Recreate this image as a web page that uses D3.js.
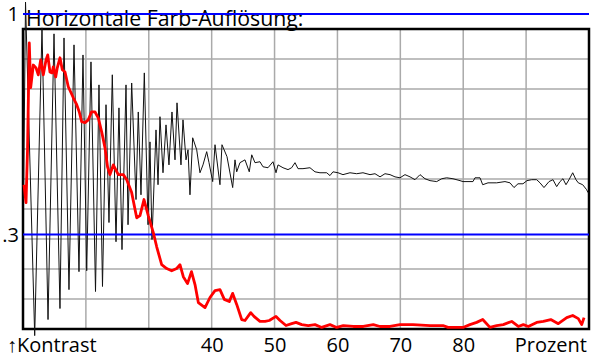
<!DOCTYPE html>
<html>
<head>
<meta charset="utf-8">
<script src="https://cdn.jsdelivr.net/npm/d3@7"></script>
<style>
    body { margin: 0; background: #fff; }
    text { font-family: "Open Sans", "Noto Sans", sans-serif; fill: #000; }
</style>
</head>
<body>
<div id="chart"></div>
<script>
// black: horizontal contrast (aliasing) curve
var blackX = [10.08, 10.40, 11.86, 13.02, 13.98, 14.93, 15.88, 16.52, 17.31, 18.11, 18.90, 19.54, 20.13, 20.81, 21.53, 22.08, 22.64, 23.20, 23.67, 24.20, 24.79, 25.26, 25.74, 26.38, 26.70, 27.28, 27.97, 28.33, 28.76, 29.29, 29.88, 30.19, 30.51, 31.15, 31.47, 31.78, 32.26, 32.74, 33.21, 33.69, 34.17, 34.49, 35.12, 35.44, 35.92, 36.24, 36.55, 36.98, 37.62, 38.14, 38.62, 39.21, 39.58, 40.16, 40.53, 41.32, 41.64, 42.44, 43.34, 43.71, 43.98, 44.50, 45.30, 45.98, 46.37, 46.89, 47.68, 48.16, 48.96, 49.75, 50.23, 50.55, 51.34, 52.14, 52.72, 53.25, 53.73, 54.52, 55.63, 56.43, 57.22, 58.29, 58.81, 59.29, 60.09, 60.88, 61.99, 63.06, 64.06, 65.18, 65.97, 66.77, 67.56, 68.36, 69.15, 69.95, 70.74, 71.54, 72.33, 73.13, 73.92, 74.72, 75.78, 76.58, 77.37, 78.37, 79.49, 79.96, 81.55, 81.87, 82.67, 83.10, 83.94, 85.32, 86.64, 87.44, 88.07, 88.71, 89.50, 90.14, 90.89, 91.68, 92.21, 92.84, 93.64, 94.27, 94.86, 95.39, 95.86, 96.34, 96.82, 97.41, 97.93, 98.30, 99.00, 99.63, 99.84];
var blackY = [0.411, 1.038, -0.021, 0.956, 0.030, 0.937, 0.065, 0.924, 0.125, 0.902, 0.182, 0.870, 0.185, 0.848, 0.119, 0.775, 0.135, 0.712, 0.338, 0.807, 0.277, 0.702, 0.252, 0.775, 0.331, 0.781, 0.411, 0.689, 0.426, 0.813, 0.331, 0.594, 0.284, 0.632, 0.458, 0.674, 0.496, 0.648, 0.521, 0.689, 0.537, 0.718, 0.521, 0.664, 0.537, 0.569, 0.426, 0.607, 0.569, 0.496, 0.521, 0.563, 0.528, 0.468, 0.585, 0.458, 0.585, 0.547, 0.449, 0.537, 0.499, 0.528, 0.537, 0.499, 0.553, 0.528, 0.531, 0.515, 0.512, 0.531, 0.496, 0.521, 0.512, 0.506, 0.512, 0.528, 0.509, 0.509, 0.512, 0.499, 0.496, 0.496, 0.487, 0.499, 0.496, 0.490, 0.496, 0.493, 0.496, 0.490, 0.493, 0.483, 0.493, 0.490, 0.483, 0.480, 0.490, 0.483, 0.474, 0.490, 0.477, 0.471, 0.468, 0.477, 0.480, 0.477, 0.471, 0.468, 0.468, 0.480, 0.480, 0.458, 0.464, 0.464, 0.468, 0.464, 0.449, 0.461, 0.461, 0.471, 0.474, 0.474, 0.464, 0.449, 0.468, 0.474, 0.452, 0.468, 0.477, 0.458, 0.474, 0.496, 0.474, 0.464, 0.458, 0.442, 0.433];

// red: colour resolution curve
var redX = [10.16, 10.48, 10.72, 11.00, 11.22, 11.64, 12.07, 12.43, 12.81, 13.23, 13.66, 13.93, 14.29, 14.61, 14.82, 15.20, 15.45, 15.88, 16.25, 16.68, 17.20, 18.00, 18.54, 18.95, 19.33, 19.86, 20.38, 20.89, 21.45, 21.97, 22.51, 23.04, 23.44, 23.83, 24.36, 25.15, 25.95, 26.49, 27.28, 28.08, 28.60, 29.24, 29.92, 30.72, 31.26, 32.05, 32.85, 33.64, 34.44, 34.96, 35.49, 36.16, 36.79, 37.35, 37.88, 38.94, 39.73, 40.53, 41.32, 42.01, 42.80, 43.34, 43.98, 44.77, 45.30, 46.21, 46.73, 47.68, 48.48, 49.16, 50.23, 50.87, 51.82, 52.72, 53.41, 54.32, 55.36, 56.43, 57.50, 58.81, 59.88, 60.93, 62.52, 64.11, 65.70, 66.77, 68.36, 69.95, 72.01, 74.72, 76.78, 77.58, 79.96, 81.07, 82.14, 83.10, 84.25, 85.32, 86.37, 87.71, 88.76, 89.56, 90.35, 91.68, 92.74, 93.92, 95.12, 96.46, 97.41, 98.30, 98.84, 99.21];
var redY = [0.458, 0.401, 0.569, 0.908, 0.766, 0.838, 0.829, 0.807, 0.854, 0.807, 0.854, 0.870, 0.816, 0.813, 0.832, 0.800, 0.829, 0.861, 0.823, 0.816, 0.769, 0.734, 0.712, 0.689, 0.658, 0.655, 0.664, 0.689, 0.689, 0.670, 0.626, 0.575, 0.515, 0.490, 0.521, 0.490, 0.490, 0.474, 0.433, 0.353, 0.360, 0.411, 0.360, 0.306, 0.261, 0.204, 0.192, 0.185, 0.192, 0.204, 0.166, 0.144, 0.182, 0.141, 0.084, 0.068, 0.100, 0.122, 0.125, 0.094, 0.087, 0.113, 0.078, 0.030, 0.027, 0.052, 0.040, 0.024, 0.024, 0.027, 0.040, 0.027, 0.011, 0.017, 0.021, 0.014, 0.011, 0.014, 0.005, 0.014, 0.005, 0.011, 0.008, 0.008, 0.014, 0.008, 0.008, 0.014, 0.014, 0.011, 0.011, 0.005, 0.005, 0.014, 0.021, 0.030, 0.005, 0.011, 0.014, 0.024, 0.008, 0.014, 0.008, 0.021, 0.024, 0.030, 0.017, 0.036, 0.043, 0.033, 0.014, 0.036];

var xTicks = [40, 50, 60, 70, 80];
var xGrid = [20, 30, 40, 50, 60, 70, 80, 90];
var yMarks = [1, 0.3];
var yMarkLabels = ['1', '.3'];

function drawChart(){
    var width = 600;
    var height = 364;
    var left = 23, right = 589, top = 29, bottom = 329;

    var svg = d3.select('#chart')
        .append('svg')
        .attr('width', width)
        .attr('height', height)

    var x = d3.scaleLinear().domain([10, 100]).range([left, right]);
    var y = d3.scaleLinear().domain([0, 1]).range([bottom, 14]);
    var rows = d3.scaleLinear().domain([0, 10]).range([bottom, top]);

    // grid
    svg.append('g')
        .selectAll('line')
        .data(xGrid)
        .enter()
        .append('line')
        .attr('x1', (d) => x(d))
        .attr('x2', (d) => x(d))
        .attr('y1', top)
        .attr('y2', bottom)
        .style('stroke', '#aaa')
        .style('stroke-width', 1.5)

    svg.append('g')
        .selectAll('line')
        .data(d3.range(1, 10))
        .enter()
        .append('line')
        .attr('x1', left)
        .attr('x2', right)
        .attr('y1', (d) => rows(d))
        .attr('y2', (d) => rows(d))
        .style('stroke', '#aaa')
        .style('stroke-width', 1.5)

    svg.append('rect')
        .attr('x', left)
        .attr('y', top)
        .attr('width', right - left)
        .attr('height', bottom - top)
        .style('fill', 'none')
        .style('stroke', '#000')
        .style('stroke-width', 2.5)

    svg.append('text')
        .attr('x', 26)
        .attr('y', 26)
        .style('font-size', '21.3px')
        .text('Horizontale Farb-Auflösung:')

    var line = d3.line()
        .x((d) => x(d[0]))
        .y((d) => y(d[1]))

    svg.append('path')
        .datum(d3.zip(blackX, blackY))
        .attr('d', line)
        .style('fill', 'none')
        .style('stroke', '#111')
        .style('stroke-width', 1)

    svg.append('g')
        .selectAll('line')
        .data(yMarks)
        .enter()
        .append('line')
        .attr('x1', x(10))
        .attr('x2', x(100))
        .attr('y1', (d) => y(d))
        .attr('y2', (d) => y(d))
        .style('stroke', '#0000ff')
        .style('stroke-width', 2)

    svg.append('g')
        .selectAll('text')
        .data(yMarks)
        .enter()
        .append('text')
        .attr('x', 19)
        .attr('y', (d) => y(d))
        .attr('dy', '0.36em')
        .attr('text-anchor', 'end')
        .style('font-size', '20px')
        .text((d, i) => yMarkLabels[i])

    svg.append('path')
        .datum(d3.zip(redX, redY))
        .attr('d', line)
        .style('fill', 'none')
        .style('stroke', '#ff0000')
        .style('stroke-width', 2.8)
        .style('stroke-linejoin', 'round')

    var xAxis = svg.append('g')
        .attr('transform', 'translate(0,' + bottom + ')')
        .call(d3.axisBottom(x).tickValues(xTicks).tickSize(0).tickPadding(9))
    xAxis.select('.domain').remove()
    xAxis.selectAll('text')
        .style('font-family', '"Open Sans", "Noto Sans", sans-serif')
        .style('font-size', '20px')
        .style('fill', '#000')

    svg.append('text')
        .attr('x', 7)
        .attr('y', 352)
        .style('font-size', '20px')
        .text('↑Kontrast')

    svg.append('text')
        .attr('x', 587)
        .attr('y', 352)
        .attr('text-anchor', 'end')
        .style('font-size', '20px')
        .text('Prozent')
}

drawChart();
</script>
</body>
</html>
